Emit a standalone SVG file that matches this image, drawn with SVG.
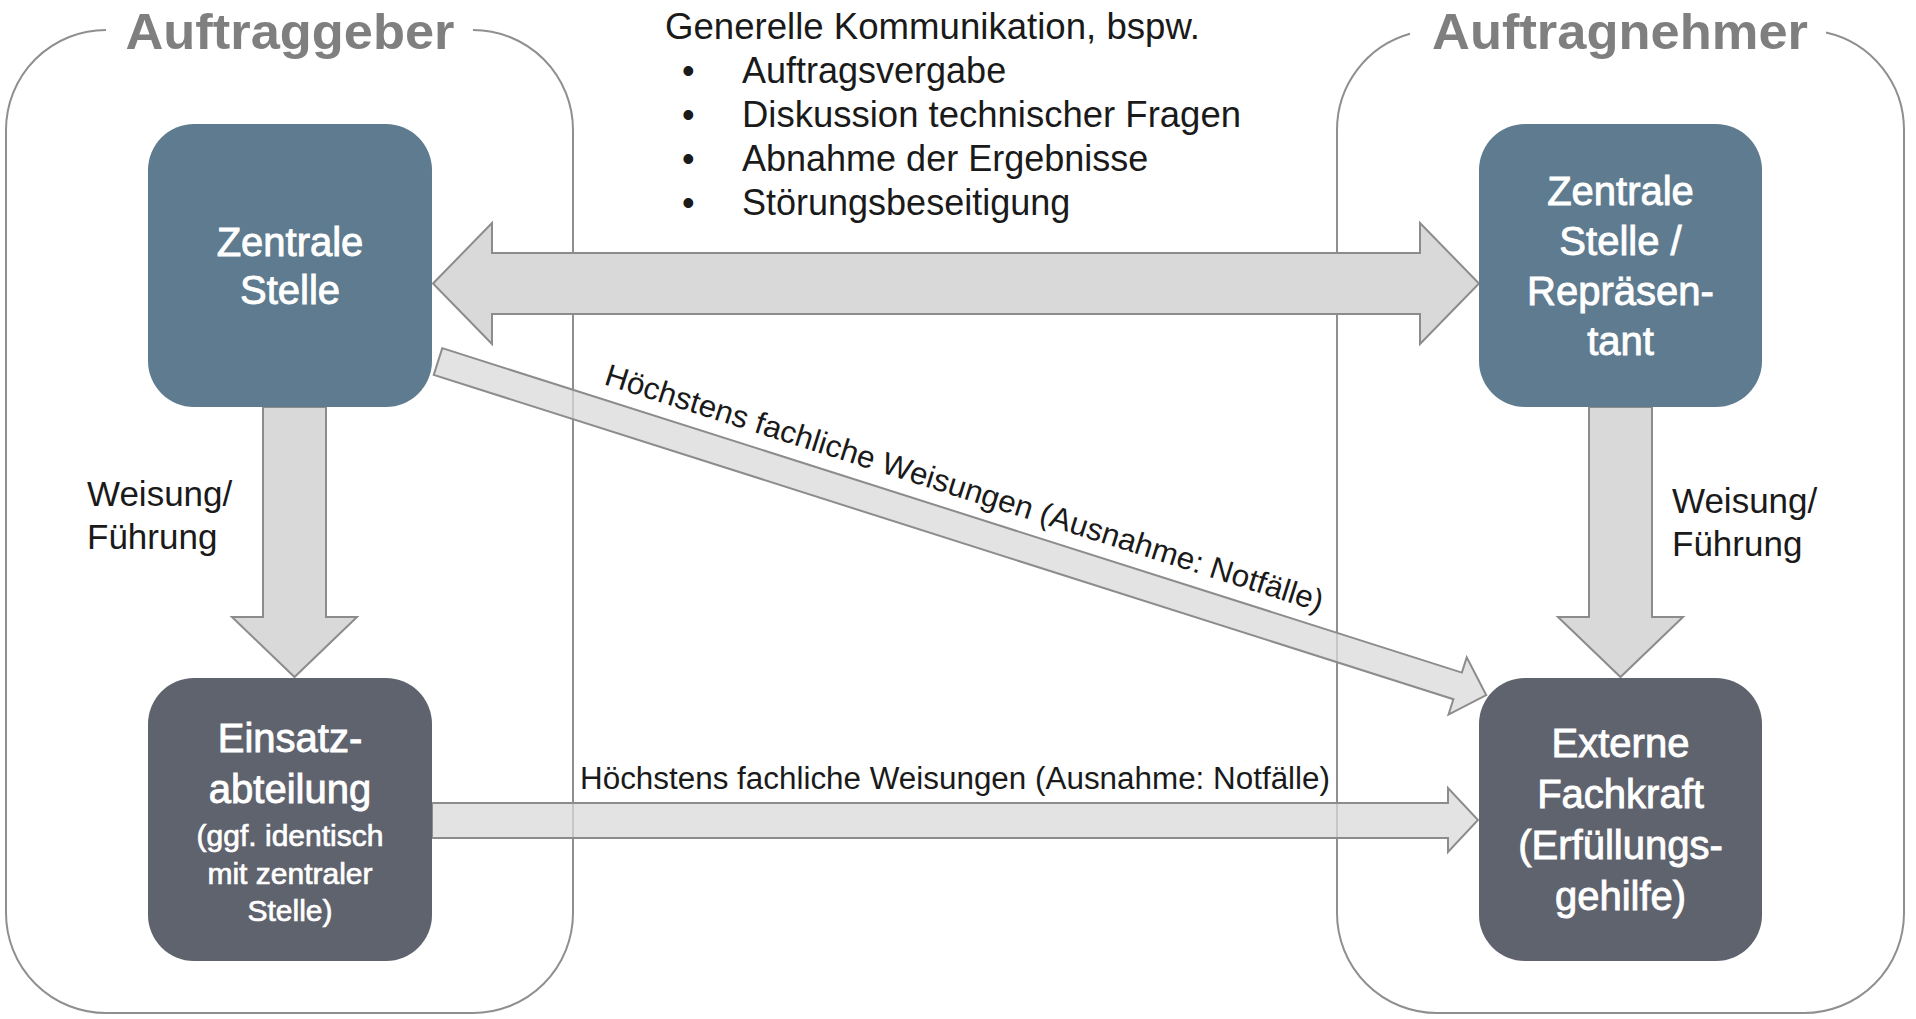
<svg xmlns="http://www.w3.org/2000/svg" width="1916" height="1019" viewBox="0 0 1916 1019">
<style>
  .frame { fill: none; stroke: #8f8f8f; stroke-width: 2; }
  .title { font-family: "Liberation Sans", Arial, sans-serif; font-weight: bold; font-size: 50px; fill: #7f7f7f; text-anchor: middle; }
  .nodeA { fill: #5f7b8f; }
  .nodeB { fill: #5f636e; }
  .ntxt { font-family: "Liberation Sans", Arial, sans-serif; font-size: 40px; fill: #ffffff; stroke: #ffffff; stroke-width: 0.9; text-anchor: middle; }
  .nsmall { font-size: 30px; stroke-width: 0.7; }
  .arrow { fill: #d9d9d9; stroke: #8c8c8c; stroke-width: 2; stroke-linejoin: miter; }
  .arrowT { fill: #d9d9d9; fill-opacity: 0.75; stroke: #8c8c8c; stroke-width: 2; }
  .lbl { font-family: "Liberation Sans", Arial, sans-serif; font-size: 31px; fill: #1a1a1a; }
  .wlbl { font-family: "Liberation Sans", Arial, sans-serif; font-size: 35px; fill: #1a1a1a; }
  .list { font-family: "Liberation Sans", Arial, sans-serif; font-size: 36px; fill: #1a1a1a; }
</style>
<rect width="1916" height="1019" fill="#ffffff"/>

<g id="auftraggeber">
  <path class="frame" d="M473,30 A100,100 0 0 1 573,130 V913 A100,100 0 0 1 473,1013 H106 A100,100 0 0 1 6,913 V130 A100,100 0 0 1 106,30"/>
  <text class="title" x="290" y="49" textLength="329" lengthAdjust="spacingAndGlyphs">Auftraggeber</text>
</g>

<g id="auftragnehmer">
  <path class="frame" d="M1826,32.4 A100,100 0 0 1 1904,130 V913 A100,100 0 0 1 1804,1013 H1437 A100,100 0 0 1 1337,913 V130 A100,100 0 0 1 1410,33.7"/>
  <text class="title" x="1620" y="49" textLength="376" lengthAdjust="spacingAndGlyphs">Auftragnehmer</text>
</g>

<g id="communication-note">
  <text class="list" x="665" y="39" textLength="535" lengthAdjust="spacingAndGlyphs">Generelle Kommunikation, bspw.</text>
  <text class="list" x="682" y="83">•</text>
  <text class="list" x="742" y="83">Auftragsvergabe</text>
  <text class="list" x="682" y="127">•</text>
  <text class="list" x="742" y="127" textLength="499" lengthAdjust="spacingAndGlyphs">Diskussion technischer Fragen</text>
  <text class="list" x="682" y="171">•</text>
  <text class="list" x="742" y="171">Abnahme der Ergebnisse</text>
  <text class="list" x="682" y="215">•</text>
  <text class="list" x="742" y="215">Störungsbeseitigung</text>
</g>

<g id="connectors">
  <polygon class="arrowT" points="432,803 1448,803 1448,788 1478,820 1448,852 1448,838 432,838"/>
  <g transform="translate(438,361.5) rotate(17.65)">
    <polygon class="arrowT" points="0,-14 1070,-14 1070,-30 1100,0 1070,30 1070,14 0,14"/>
  </g>
  <polygon class="arrow" points="433,283.5 492,223 492,253 1420,253 1420,223 1479,283.5 1420,344 1420,314 492,314 492,344"/>
  <polygon class="arrow" points="263,407 326,407 326,617 357,617 294.5,677 232,617 263,617"/>
  <polygon class="arrow" points="1589,407 1652,407 1652,617 1683,617 1620.5,677 1558,617 1589,617"/>
  <text class="lbl" x="603" y="384" transform="rotate(17.65 603 384)" textLength="752" lengthAdjust="spacingAndGlyphs">Höchstens fachliche Weisungen (Ausnahme: Notfälle)</text>
  <text class="lbl" x="580" y="789" textLength="750" lengthAdjust="spacingAndGlyphs">Höchstens fachliche Weisungen (Ausnahme: Notfälle)</text>
  <text class="wlbl" x="87" y="506">Weisung/</text>
  <text class="wlbl" x="87" y="549">Führung</text>
  <text class="wlbl" x="1672" y="513">Weisung/</text>
  <text class="wlbl" x="1672" y="556">Führung</text>
</g>

<g id="node-zentrale-stelle">
  <rect class="nodeA" x="148" y="124" width="284" height="283" rx="46"/>
  <text class="ntxt" x="290" y="256">Zentrale</text>
  <text class="ntxt" x="290" y="304">Stelle</text>
</g>

<g id="node-einsatzabteilung">
  <rect class="nodeB" x="148" y="678" width="284" height="283" rx="46"/>
  <text class="ntxt" x="290" y="752">Einsatz-</text>
  <text class="ntxt" x="290" y="803">abteilung</text>
  <text class="ntxt nsmall" x="290" y="846">(ggf. identisch</text>
  <text class="ntxt nsmall" x="290" y="884">mit zentraler</text>
  <text class="ntxt nsmall" x="290" y="921">Stelle)</text>
</g>

<g id="node-zentrale-stelle-repraesentant">
  <rect class="nodeA" x="1479" y="124" width="283" height="283" rx="46"/>
  <text class="ntxt" x="1620.5" y="205">Zentrale</text>
  <text class="ntxt" x="1620.5" y="255">Stelle /</text>
  <text class="ntxt" x="1620.5" y="305">Repräsen-</text>
  <text class="ntxt" x="1620.5" y="355">tant</text>
</g>

<g id="node-externe-fachkraft">
  <rect class="nodeB" x="1479" y="678" width="283" height="283" rx="46"/>
  <text class="ntxt" x="1620.5" y="757">Externe</text>
  <text class="ntxt" x="1620.5" y="808">Fachkraft</text>
  <text class="ntxt" x="1620.5" y="859">(Erfüllungs-</text>
  <text class="ntxt" x="1620.5" y="910">gehilfe)</text>
</g>
</svg>
